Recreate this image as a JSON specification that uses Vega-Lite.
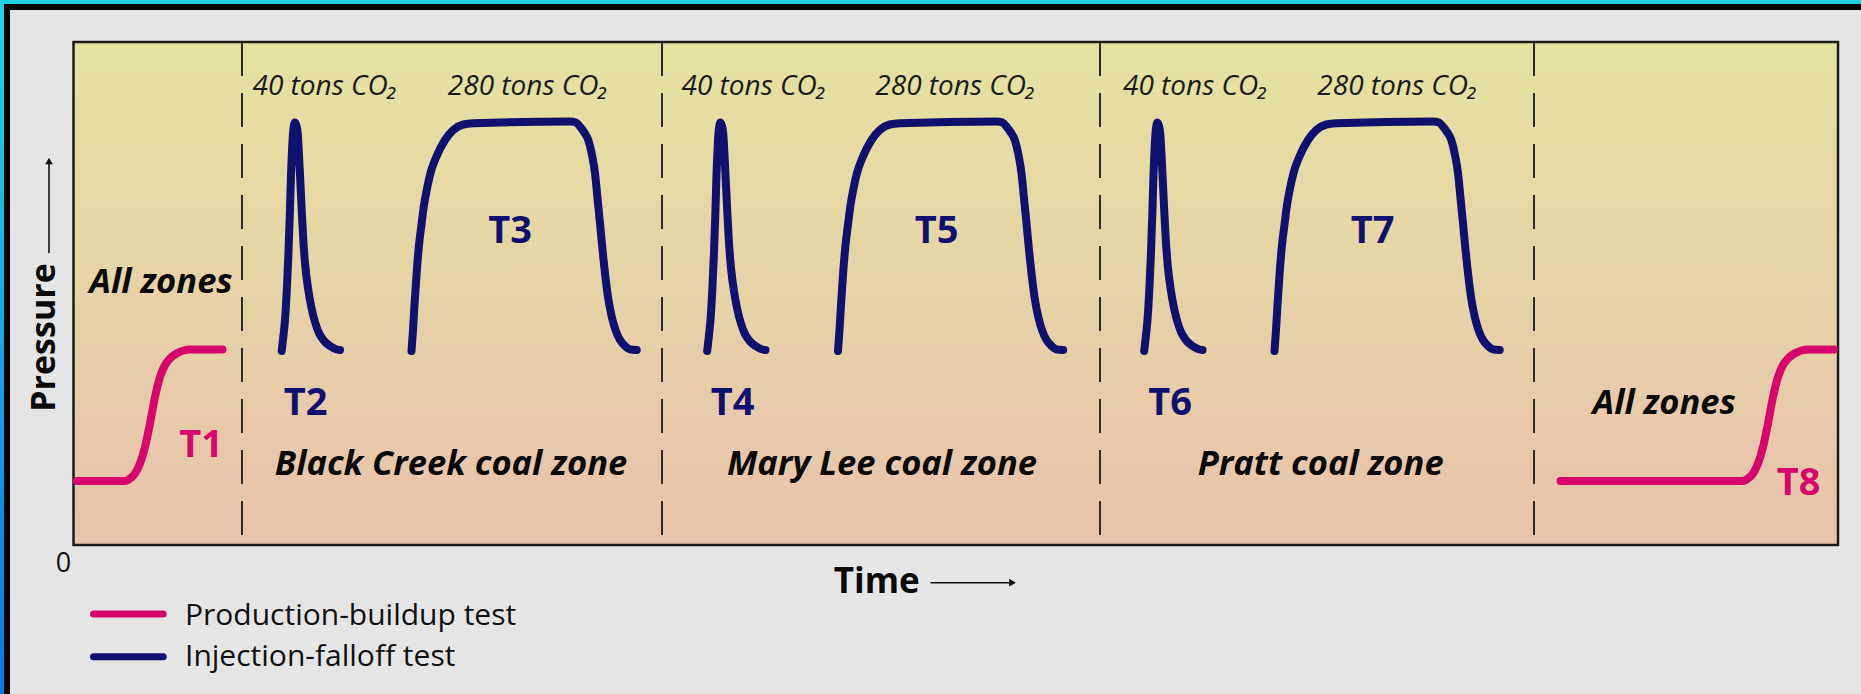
{
  "$schema": "https://vega.github.io/schema/vega-lite/v6.json",
  "width": 1764.5,
  "height": 503,
  "autosize": {"type": "none"},
  "padding": {"left": 73.5, "top": 42, "right": 23, "bottom": 149},
  "background": "#e5e5e6",
  "config": {"view": {"stroke": null}, "font": "Open Sans"},
  "datasets": {
    "curves": [
      {"curve":"T1","test":"production","t":3.5,"p":64},{"curve":"T1","test":"production","t":51.5,"p":64},{"curve":"T1","test":"production","t":56.5,"p":66.5},{"curve":"T1","test":"production","t":61.5,"p":71.5},{"curve":"T1","test":"production","t":66.5,"p":81.5},{"curve":"T1","test":"production","t":71.5,"p":98},{"curve":"T1","test":"production","t":76.5,"p":121.5},{"curve":"T1","test":"production","t":81.5,"p":148},{"curve":"T1","test":"production","t":86.5,"p":168},{"curve":"T1","test":"production","t":91.5,"p":180},{"curve":"T1","test":"production","t":96.5,"p":186.5},{"curve":"T1","test":"production","t":103,"p":191.5},{"curve":"T1","test":"production","t":110,"p":194.5},{"curve":"T1","test":"production","t":116.5,"p":195.5},{"curve":"T1","test":"production","t":149,"p":195.5},
      {"curve":"T8","test":"production","t":1487,"p":64},{"curve":"T8","test":"production","t":1669.5,"p":64},{"curve":"T8","test":"production","t":1674.5,"p":66.5},{"curve":"T8","test":"production","t":1679.5,"p":71.5},{"curve":"T8","test":"production","t":1684.5,"p":81.5},{"curve":"T8","test":"production","t":1689.5,"p":98},{"curve":"T8","test":"production","t":1694.5,"p":121.5},{"curve":"T8","test":"production","t":1699.5,"p":148},{"curve":"T8","test":"production","t":1704.5,"p":168},{"curve":"T8","test":"production","t":1709.5,"p":180},{"curve":"T8","test":"production","t":1714.5,"p":186.5},{"curve":"T8","test":"production","t":1721,"p":191.5},{"curve":"T8","test":"production","t":1728,"p":194.5},{"curve":"T8","test":"production","t":1734.5,"p":195.5},{"curve":"T8","test":"production","t":1760.5,"p":195.5},
      {"curve":"T2","test":"injection","t":208.2,"p":194},{"curve":"T2","test":"injection","t":210,"p":210},{"curve":"T2","test":"injection","t":211.5,"p":225},{"curve":"T2","test":"injection","t":213.3,"p":255},{"curve":"T2","test":"injection","t":214.8,"p":288},{"curve":"T2","test":"injection","t":216.3,"p":330},{"curve":"T2","test":"injection","t":217.5,"p":370},{"curve":"T2","test":"injection","t":218.8,"p":400},{"curve":"T2","test":"injection","t":220,"p":417},{"curve":"T2","test":"injection","t":221.5,"p":422.5},{"curve":"T2","test":"injection","t":223,"p":419},{"curve":"T2","test":"injection","t":224.2,"p":412},{"curve":"T2","test":"injection","t":225.5,"p":390},{"curve":"T2","test":"injection","t":226.5,"p":370},{"curve":"T2","test":"injection","t":228.2,"p":335},{"curve":"T2","test":"injection","t":229.8,"p":305},{"curve":"T2","test":"injection","t":232,"p":277},{"curve":"T2","test":"injection","t":234.8,"p":255},{"curve":"T2","test":"injection","t":238,"p":237},{"curve":"T2","test":"injection","t":241.5,"p":223},{"curve":"T2","test":"injection","t":245.5,"p":212},{"curve":"T2","test":"injection","t":249.8,"p":205},{"curve":"T2","test":"injection","t":256.5,"p":199},{"curve":"T2","test":"injection","t":263.5,"p":195.5},{"curve":"T2","test":"injection","t":266.5,"p":195},
      {"curve":"T4","test":"injection","t":633.7,"p":194},{"curve":"T4","test":"injection","t":635.5,"p":210},{"curve":"T4","test":"injection","t":637,"p":225},{"curve":"T4","test":"injection","t":638.8,"p":255},{"curve":"T4","test":"injection","t":640.3,"p":288},{"curve":"T4","test":"injection","t":641.8,"p":330},{"curve":"T4","test":"injection","t":643,"p":370},{"curve":"T4","test":"injection","t":644.3,"p":400},{"curve":"T4","test":"injection","t":645.5,"p":417},{"curve":"T4","test":"injection","t":647,"p":422.5},{"curve":"T4","test":"injection","t":648.5,"p":419},{"curve":"T4","test":"injection","t":649.7,"p":412},{"curve":"T4","test":"injection","t":651,"p":390},{"curve":"T4","test":"injection","t":652,"p":370},{"curve":"T4","test":"injection","t":653.7,"p":335},{"curve":"T4","test":"injection","t":655.3,"p":305},{"curve":"T4","test":"injection","t":657.5,"p":277},{"curve":"T4","test":"injection","t":660.3,"p":255},{"curve":"T4","test":"injection","t":663.5,"p":237},{"curve":"T4","test":"injection","t":667,"p":223},{"curve":"T4","test":"injection","t":671,"p":212},{"curve":"T4","test":"injection","t":675.3,"p":205},{"curve":"T4","test":"injection","t":682,"p":199},{"curve":"T4","test":"injection","t":689,"p":195.5},{"curve":"T4","test":"injection","t":692,"p":195},
      {"curve":"T6","test":"injection","t":1070.7,"p":194},{"curve":"T6","test":"injection","t":1072.5,"p":210},{"curve":"T6","test":"injection","t":1074,"p":225},{"curve":"T6","test":"injection","t":1075.8,"p":255},{"curve":"T6","test":"injection","t":1077.3,"p":288},{"curve":"T6","test":"injection","t":1078.8,"p":330},{"curve":"T6","test":"injection","t":1080,"p":370},{"curve":"T6","test":"injection","t":1081.3,"p":400},{"curve":"T6","test":"injection","t":1082.5,"p":417},{"curve":"T6","test":"injection","t":1084,"p":422.5},{"curve":"T6","test":"injection","t":1085.5,"p":419},{"curve":"T6","test":"injection","t":1086.7,"p":412},{"curve":"T6","test":"injection","t":1088,"p":390},{"curve":"T6","test":"injection","t":1089,"p":370},{"curve":"T6","test":"injection","t":1090.7,"p":335},{"curve":"T6","test":"injection","t":1092.3,"p":305},{"curve":"T6","test":"injection","t":1094.5,"p":277},{"curve":"T6","test":"injection","t":1097.3,"p":255},{"curve":"T6","test":"injection","t":1100.5,"p":237},{"curve":"T6","test":"injection","t":1104,"p":223},{"curve":"T6","test":"injection","t":1108,"p":212},{"curve":"T6","test":"injection","t":1112.3,"p":205},{"curve":"T6","test":"injection","t":1119,"p":199},{"curve":"T6","test":"injection","t":1126,"p":195.5},{"curve":"T6","test":"injection","t":1129,"p":195},
      {"curve":"T3","test":"injection","t":338,"p":194},{"curve":"T3","test":"injection","t":339.5,"p":215},{"curve":"T3","test":"injection","t":341,"p":240},{"curve":"T3","test":"injection","t":343,"p":270},{"curve":"T3","test":"injection","t":345.5,"p":300},{"curve":"T3","test":"injection","t":348.2,"p":322},{"curve":"T3","test":"injection","t":350.5,"p":340},{"curve":"T3","test":"injection","t":353.2,"p":355},{"curve":"T3","test":"injection","t":357,"p":372},{"curve":"T3","test":"injection","t":363,"p":388.5},{"curve":"T3","test":"injection","t":371.5,"p":405},{"curve":"T3","test":"injection","t":379.8,"p":415},{"curve":"T3","test":"injection","t":389.8,"p":420.5},{"curve":"T3","test":"injection","t":400,"p":421.8},{"curve":"T3","test":"injection","t":496.5,"p":423.5},{"curve":"T3","test":"injection","t":502.5,"p":422.5},{"curve":"T3","test":"injection","t":506.5,"p":418.3},{"curve":"T3","test":"injection","t":510.5,"p":413},{"curve":"T3","test":"injection","t":514.8,"p":405},{"curve":"T3","test":"injection","t":518.5,"p":390},{"curve":"T3","test":"injection","t":521.5,"p":371.7},{"curve":"T3","test":"injection","t":524,"p":347},{"curve":"T3","test":"injection","t":526.5,"p":321.7},{"curve":"T3","test":"injection","t":529,"p":295},{"curve":"T3","test":"injection","t":531.5,"p":271.7},{"curve":"T3","test":"injection","t":534.5,"p":248},{"curve":"T3","test":"injection","t":538.2,"p":228.3},{"curve":"T3","test":"injection","t":542,"p":215},{"curve":"T3","test":"injection","t":546.5,"p":205},{"curve":"T3","test":"injection","t":551.5,"p":199},{"curve":"T3","test":"injection","t":556.5,"p":195.7},{"curve":"T3","test":"injection","t":563.2,"p":195},
      {"curve":"T5","test":"injection","t":764.5,"p":194},{"curve":"T5","test":"injection","t":766,"p":215},{"curve":"T5","test":"injection","t":767.5,"p":240},{"curve":"T5","test":"injection","t":769.5,"p":270},{"curve":"T5","test":"injection","t":772,"p":300},{"curve":"T5","test":"injection","t":774.7,"p":322},{"curve":"T5","test":"injection","t":777,"p":340},{"curve":"T5","test":"injection","t":779.7,"p":355},{"curve":"T5","test":"injection","t":783.5,"p":372},{"curve":"T5","test":"injection","t":789.5,"p":388.5},{"curve":"T5","test":"injection","t":798,"p":405},{"curve":"T5","test":"injection","t":806.3,"p":415},{"curve":"T5","test":"injection","t":816.3,"p":420.5},{"curve":"T5","test":"injection","t":826.5,"p":421.8},{"curve":"T5","test":"injection","t":923,"p":423.5},{"curve":"T5","test":"injection","t":929,"p":422.5},{"curve":"T5","test":"injection","t":933,"p":418.3},{"curve":"T5","test":"injection","t":937,"p":413},{"curve":"T5","test":"injection","t":941.3,"p":405},{"curve":"T5","test":"injection","t":945,"p":390},{"curve":"T5","test":"injection","t":948,"p":371.7},{"curve":"T5","test":"injection","t":950.5,"p":347},{"curve":"T5","test":"injection","t":953,"p":321.7},{"curve":"T5","test":"injection","t":955.5,"p":295},{"curve":"T5","test":"injection","t":958,"p":271.7},{"curve":"T5","test":"injection","t":961,"p":248},{"curve":"T5","test":"injection","t":964.7,"p":228.3},{"curve":"T5","test":"injection","t":968.5,"p":215},{"curve":"T5","test":"injection","t":973,"p":205},{"curve":"T5","test":"injection","t":978,"p":199},{"curve":"T5","test":"injection","t":983,"p":195.7},{"curve":"T5","test":"injection","t":989.7,"p":195},
      {"curve":"T7","test":"injection","t":1201,"p":194},{"curve":"T7","test":"injection","t":1202.5,"p":215},{"curve":"T7","test":"injection","t":1204,"p":240},{"curve":"T7","test":"injection","t":1206,"p":270},{"curve":"T7","test":"injection","t":1208.5,"p":300},{"curve":"T7","test":"injection","t":1211.2,"p":322},{"curve":"T7","test":"injection","t":1213.5,"p":340},{"curve":"T7","test":"injection","t":1216.2,"p":355},{"curve":"T7","test":"injection","t":1220,"p":372},{"curve":"T7","test":"injection","t":1226,"p":388.5},{"curve":"T7","test":"injection","t":1234.5,"p":405},{"curve":"T7","test":"injection","t":1242.8,"p":415},{"curve":"T7","test":"injection","t":1252.8,"p":420.5},{"curve":"T7","test":"injection","t":1263,"p":421.8},{"curve":"T7","test":"injection","t":1359.5,"p":423.5},{"curve":"T7","test":"injection","t":1365.5,"p":422.5},{"curve":"T7","test":"injection","t":1369.5,"p":418.3},{"curve":"T7","test":"injection","t":1373.5,"p":413},{"curve":"T7","test":"injection","t":1377.8,"p":405},{"curve":"T7","test":"injection","t":1381.5,"p":390},{"curve":"T7","test":"injection","t":1384.5,"p":371.7},{"curve":"T7","test":"injection","t":1387,"p":347},{"curve":"T7","test":"injection","t":1389.5,"p":321.7},{"curve":"T7","test":"injection","t":1392,"p":295},{"curve":"T7","test":"injection","t":1394.5,"p":271.7},{"curve":"T7","test":"injection","t":1397.5,"p":248},{"curve":"T7","test":"injection","t":1401.2,"p":228.3},{"curve":"T7","test":"injection","t":1405,"p":215},{"curve":"T7","test":"injection","t":1409.5,"p":205},{"curve":"T7","test":"injection","t":1414.5,"p":199},{"curve":"T7","test":"injection","t":1419.5,"p":195.7},{"curve":"T7","test":"injection","t":1426.2,"p":195}
    ],
    "dividers": [{"t":168.5},{"t":588.5},{"t":1026.5},{"t":1460.5}],
    "tNavy": [
      {"label":"T2","t":232,"p":130},{"label":"T3","t":436.5,"p":302},
      {"label":"T4","t":659,"p":130},{"label":"T5","t":863.2,"p":302},
      {"label":"T6","t":1096.7,"p":130},{"label":"T7","t":1299.2,"p":302}
    ],
    "tPink": [{"label":"T1","t":127.5,"p":88},{"label":"T8","t":1725,"p":50}],
    "zones": [
      {"label":"All zones","t":87.5,"p":252},
      {"label":"Black Creek coal zone","t":377.5,"p":70},
      {"label":"Mary Lee coal zone","t":808.5,"p":70},
      {"label":"Pratt coal zone","t":1247.2,"p":70},
      {"label":"All zones","t":1590.7,"p":131}
    ],
    "co2": [
      {"label":"40 tons CO₂","t":251.5,"p":450},{"label":"280 tons CO₂","t":454.5,"p":450},
      {"label":"40 tons CO₂","t":680.5,"p":450},{"label":"280 tons CO₂","t":882,"p":450},
      {"label":"40 tons CO₂","t":1122,"p":450},{"label":"280 tons CO₂","t":1324,"p":450}
    ]
  },
  "layer": [
    {"data":{"values":[{}]},"mark":{"type":"rect","color":"#20d3e2"},
     "encoding":{"x":{"datum":-73.5,"type":"quantitative","scale":{"domain":[0,1764.5],"nice":false,"zero":false},"axis":null},"x2":{"datum":1787.5},
                 "y":{"datum":541,"type":"quantitative","scale":{"domain":[0,503],"nice":false,"zero":false},"axis":null},"y2":{"datum":545}}},
    {"data":{"values":[{}]},"mark":{"type":"rect","fill":{"gradient":"linear","x1":0,"y1":0,"x2":0,"y2":1,"stops":[{"offset":0,"color":"#20d3e2"},{"offset":1,"color":"#0a78e4"}]}},
     "encoding":{"x":{"datum":-73.5,"type":"quantitative","scale":{"domain":[0,1764.5],"nice":false,"zero":false},"axis":null},"x2":{"datum":-69.5},
                 "y":{"datum":-149,"type":"quantitative","scale":{"domain":[0,503],"nice":false,"zero":false},"axis":null},"y2":{"datum":545}}},
    {"data":{"values":[{}]},"mark":{"type":"rect","color":"#050505"},
     "encoding":{"x":{"datum":-69.5,"type":"quantitative","scale":{"domain":[0,1764.5],"nice":false,"zero":false},"axis":null},"x2":{"datum":1787.5},
                 "y":{"datum":535,"type":"quantitative","scale":{"domain":[0,503],"nice":false,"zero":false},"axis":null},"y2":{"datum":541}}},
    {"data":{"values":[{}]},"mark":{"type":"rect","color":"#050505"},
     "encoding":{"x":{"datum":-69.5,"type":"quantitative","scale":{"domain":[0,1764.5],"nice":false,"zero":false},"axis":null},"x2":{"datum":-63.5},
                 "y":{"datum":-149,"type":"quantitative","scale":{"domain":[0,503],"nice":false,"zero":false},"axis":null},"y2":{"datum":541}}},
    {"data":{"values":[{}]},"mark":{"type":"rect","fill":{"gradient":"linear","x1":0,"y1":0,"x2":0,"y2":1,"stops":[{"offset":0,"color":"#e5e2a0"},{"offset":0.5,"color":"#e6d3a7"},{"offset":1,"color":"#e8c2ad"}]}},
     "encoding":{"x":{"datum":0,"type":"quantitative","scale":{"domain":[0,1764.5],"nice":false,"zero":false},"axis":null},"x2":{"datum":1764.5},
                 "y":{"datum":0,"type":"quantitative","scale":{"domain":[0,503],"nice":false,"zero":false},"axis":null},"y2":{"datum":503}}},
    {"data":{"values":[{}]},"mark":{"type":"rect","filled":false,"stroke":"#1c1c1c","strokeWidth":2.5},
     "encoding":{"x":{"datum":0,"type":"quantitative","scale":{"domain":[0,1764.5],"nice":false,"zero":false},"axis":null},"x2":{"datum":1764.5},
                 "y":{"datum":0,"type":"quantitative","scale":{"domain":[0,503],"nice":false,"zero":false},"axis":null},"y2":{"datum":503}}},
    {"data":{"name":"dividers"},"mark":{"type":"rule","color":"#2b2b2b","strokeWidth":2,"strokeDash":[34,17]},
     "encoding":{"x":{"field":"t","type":"quantitative","scale":{"domain":[0,1764.5],"nice":false,"zero":false},"axis":null}}},
    {"data":{"name":"curves"},"mark":{"type":"line","interpolate":"monotone","strokeWidth":8,"strokeCap":"round","strokeJoin":"round"},
     "encoding":{"x":{"field":"t","type":"quantitative","scale":{"domain":[0,1764.5],"nice":false,"zero":false},"axis":null},
                 "y":{"field":"p","type":"quantitative","scale":{"domain":[0,503],"nice":false,"zero":false},"axis":null},
                 "color":{"field":"test","type":"nominal","scale":{"domain":["production","injection"],"range":["#d7066c","#10106e"]},"legend":null},
                 "detail":{"field":"curve"}}},
    {"data":{"name":"tNavy"},"mark":{"type":"text","font":"Open Sans","fontWeight":"bold","fontSize":38,"color":"#10106e","align":"center","baseline":"alphabetic"},
     "encoding":{"x":{"field":"t","type":"quantitative","scale":{"domain":[0,1764.5],"nice":false,"zero":false},"axis":null},
                 "y":{"field":"p","type":"quantitative","scale":{"domain":[0,503],"nice":false,"zero":false},"axis":null},"text":{"field":"label"}}},
    {"data":{"name":"tPink"},"mark":{"type":"text","font":"Open Sans","fontWeight":"bold","fontSize":38,"color":"#d7066c","align":"center","baseline":"alphabetic"},
     "encoding":{"x":{"field":"t","type":"quantitative","scale":{"domain":[0,1764.5],"nice":false,"zero":false},"axis":null},
                 "y":{"field":"p","type":"quantitative","scale":{"domain":[0,503],"nice":false,"zero":false},"axis":null},"text":{"field":"label"}}},
    {"data":{"name":"zones"},"mark":{"type":"text","font":"Open Sans","fontWeight":"bold","fontStyle":"italic","fontSize":34.5,"color":"#0a0a0a","align":"center","baseline":"alphabetic"},
     "encoding":{"x":{"field":"t","type":"quantitative","scale":{"domain":[0,1764.5],"nice":false,"zero":false},"axis":null},
                 "y":{"field":"p","type":"quantitative","scale":{"domain":[0,503],"nice":false,"zero":false},"axis":null},"text":{"field":"label"}}},
    {"data":{"name":"co2"},"mark":{"type":"text","font":"Open Sans","fontStyle":"italic","fontSize":28,"color":"#1a1a1a","align":"center","baseline":"alphabetic"},
     "encoding":{"x":{"field":"t","type":"quantitative","scale":{"domain":[0,1764.5],"nice":false,"zero":false},"axis":null},
                 "y":{"field":"p","type":"quantitative","scale":{"domain":[0,503],"nice":false,"zero":false},"axis":null},"text":{"field":"label"}}},
    {"data":{"values":[{}]},"mark":{"type":"text","text":"0","font":"Open Sans","fontSize":27,"color":"#111111","align":"center","baseline":"alphabetic"},
     "encoding":{"x":{"datum":-10,"type":"quantitative","scale":{"domain":[0,1764.5],"nice":false,"zero":false},"axis":null},
                 "y":{"datum":-27,"type":"quantitative","scale":{"domain":[0,503],"nice":false,"zero":false},"axis":null}}},
    {"data":{"values":[{}]},"mark":{"type":"text","text":"Time","font":"Open Sans","fontWeight":"bold","fontSize":35,"color":"#0a0a0a","align":"center","baseline":"alphabetic"},
     "encoding":{"x":{"datum":803.3,"type":"quantitative","scale":{"domain":[0,1764.5],"nice":false,"zero":false},"axis":null},
                 "y":{"datum":-48.3,"type":"quantitative","scale":{"domain":[0,503],"nice":false,"zero":false},"axis":null}}},
    {"data":{"values":[{}]},"mark":{"type":"text","text":"Pressure","angle":270,"font":"Open Sans","fontWeight":"bold","fontSize":34,"color":"#0a0a0a","align":"center","baseline":"alphabetic"},
     "encoding":{"x":{"datum":-18.1,"type":"quantitative","scale":{"domain":[0,1764.5],"nice":false,"zero":false},"axis":null},
                 "y":{"datum":207.5,"type":"quantitative","scale":{"domain":[0,503],"nice":false,"zero":false},"axis":null}}},
    {"data":{"values":[{}]},"mark":{"type":"rule","color":"#111111","strokeWidth":1.6},
     "encoding":{"x":{"datum":857,"type":"quantitative","scale":{"domain":[0,1764.5],"nice":false,"zero":false},"axis":null},"x2":{"datum":936},
                 "y":{"datum":-37.7,"type":"quantitative","scale":{"domain":[0,503],"nice":false,"zero":false},"axis":null}}},
    {"data":{"values":[{}]},"mark":{"type":"point","shape":"triangle-right","filled":true,"size":60,"color":"#111111","opacity":1},
     "encoding":{"x":{"datum":939,"type":"quantitative","scale":{"domain":[0,1764.5],"nice":false,"zero":false},"axis":null},
                 "y":{"datum":-37.7,"type":"quantitative","scale":{"domain":[0,503],"nice":false,"zero":false},"axis":null}}},
    {"data":{"values":[{}]},"mark":{"type":"rule","color":"#111111","strokeWidth":1.6},
     "encoding":{"x":{"datum":-24.5,"type":"quantitative","scale":{"domain":[0,1764.5],"nice":false,"zero":false},"axis":null},
                 "y":{"datum":292,"type":"quantitative","scale":{"domain":[0,503],"nice":false,"zero":false},"axis":null},"y2":{"datum":381}}},
    {"data":{"values":[{}]},"mark":{"type":"point","shape":"triangle-up","filled":true,"size":60,"color":"#111111","opacity":1},
     "encoding":{"x":{"datum":-24.5,"type":"quantitative","scale":{"domain":[0,1764.5],"nice":false,"zero":false},"axis":null},
                 "y":{"datum":384,"type":"quantitative","scale":{"domain":[0,503],"nice":false,"zero":false},"axis":null}}},
    {"data":{"values":[{}]},"mark":{"type":"rule","color":"#d7066c","strokeWidth":7,"strokeCap":"round"},
     "encoding":{"x":{"datum":20,"type":"quantitative","scale":{"domain":[0,1764.5],"nice":false,"zero":false},"axis":null},"x2":{"datum":89.7},
                 "y":{"datum":-69,"type":"quantitative","scale":{"domain":[0,503],"nice":false,"zero":false},"axis":null}}},
    {"data":{"values":[{}]},"mark":{"type":"rule","color":"#10106e","strokeWidth":7,"strokeCap":"round"},
     "encoding":{"x":{"datum":20,"type":"quantitative","scale":{"domain":[0,1764.5],"nice":false,"zero":false},"axis":null},"x2":{"datum":89.7},
                 "y":{"datum":-111.7,"type":"quantitative","scale":{"domain":[0,503],"nice":false,"zero":false},"axis":null}}},
    {"data":{"values":[{}]},"mark":{"type":"text","text":"Production-buildup test","font":"Open Sans","fontSize":30,"color":"#111111","align":"left","baseline":"alphabetic"},
     "encoding":{"x":{"datum":111.5,"type":"quantitative","scale":{"domain":[0,1764.5],"nice":false,"zero":false},"axis":null},
                 "y":{"datum":-80,"type":"quantitative","scale":{"domain":[0,503],"nice":false,"zero":false},"axis":null}}},
    {"data":{"values":[{}]},"mark":{"type":"text","text":"Injection-falloff test","font":"Open Sans","fontSize":30,"color":"#111111","align":"left","baseline":"alphabetic"},
     "encoding":{"x":{"datum":111.5,"type":"quantitative","scale":{"domain":[0,1764.5],"nice":false,"zero":false},"axis":null},
                 "y":{"datum":-121,"type":"quantitative","scale":{"domain":[0,503],"nice":false,"zero":false},"axis":null}}}
  ]
}
